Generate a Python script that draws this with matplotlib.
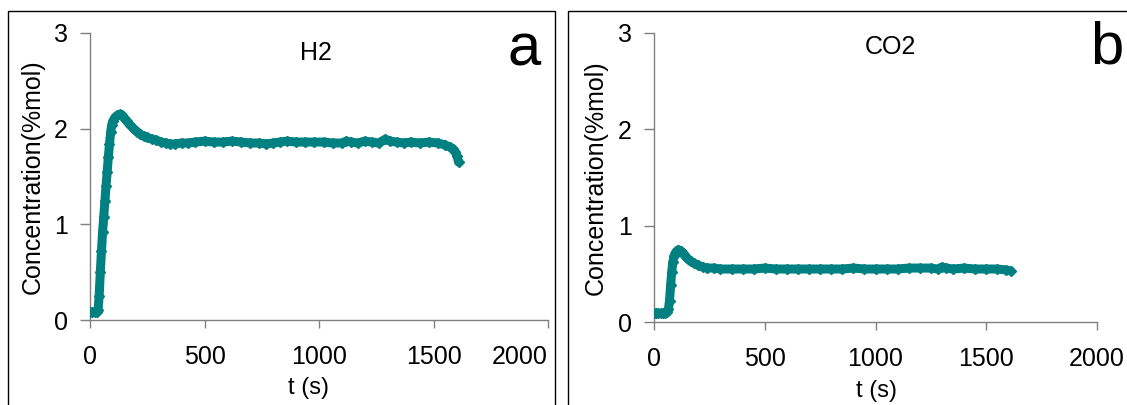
import matplotlib
matplotlib.use("Agg")
import matplotlib.pyplot as plt
from matplotlib.patches import Rectangle

# ── Data ───────────────────────────────────────────────────────────────────────
t_h2 = [0, 10, 20, 30, 35, 40, 45, 50, 55, 60, 65, 70, 75, 80, 85, 90, 95, 100,
        110, 120, 130, 140, 150, 160, 175, 190, 205, 220, 235, 250, 270, 290,
        310, 330, 350, 370, 400, 430, 460, 500, 540, 580, 620, 660, 700, 740,
        770, 800, 830, 860, 900, 940, 980, 1020, 1060, 1100, 1120, 1140, 1170,
        1200, 1230, 1260, 1290, 1310, 1340, 1370, 1400, 1440, 1480, 1520, 1550,
        1570, 1585, 1595, 1603, 1610]
h2 = [0.08, 0.08, 0.08, 0.08, 0.10, 0.25, 0.50, 0.72, 0.92, 1.08, 1.24, 1.40,
      1.55, 1.70, 1.84, 1.96, 2.04, 2.08, 2.12, 2.14, 2.15, 2.14, 2.11, 2.08,
      2.04, 2.00, 1.97, 1.94, 1.92, 1.91, 1.89, 1.88, 1.86, 1.85, 1.84, 1.84,
      1.85, 1.85, 1.86, 1.87, 1.86, 1.86, 1.87, 1.86, 1.85, 1.85, 1.84, 1.85,
      1.86, 1.87, 1.86, 1.86, 1.86, 1.86, 1.85, 1.85, 1.87, 1.86, 1.85, 1.87,
      1.86, 1.85, 1.89, 1.87, 1.86, 1.85, 1.86, 1.85, 1.86, 1.85, 1.83, 1.81,
      1.79, 1.76, 1.71, 1.65]

t_co2 = [0, 10, 20, 30, 40, 50, 60, 65, 70, 75, 80, 85, 90, 95, 100, 110, 120,
         130, 140, 150, 165, 180, 200, 220, 240, 270, 300, 350, 400, 450, 500,
         550, 600, 650, 700, 750, 800, 850, 900, 950, 1000, 1050, 1100, 1150,
         1200, 1250, 1280, 1300, 1320, 1350, 1400, 1450, 1500, 1550, 1590, 1610]
co2 = [0.09, 0.09, 0.09, 0.09, 0.09, 0.09, 0.10, 0.13, 0.22, 0.38, 0.52, 0.62,
       0.68, 0.71, 0.73, 0.75, 0.74, 0.72, 0.69, 0.66, 0.63, 0.61, 0.59, 0.57,
       0.56, 0.56, 0.55, 0.55, 0.55, 0.55, 0.56, 0.55, 0.55, 0.55, 0.55, 0.55,
       0.55, 0.55, 0.56, 0.55, 0.55, 0.55, 0.55, 0.56, 0.56, 0.56, 0.55, 0.57,
       0.56, 0.55, 0.56, 0.55, 0.55, 0.55, 0.54, 0.53]

panels = [
    (t_h2, h2, "H2", "a"),
    (t_co2, co2, "CO2", "b"),
]

# ── Styling ────────────────────────────────────────────────────────────────────
TEAL = "#008080"
AXIS_GREY = "#808080"
W, H = 1127, 405

plt.rcParams["font.family"] = ["Liberation Sans", "DejaVu Sans"]

fig = plt.figure(figsize=(W / 100, H / 100), dpi=100)

# axes boxes in pixels: (left, right, y of value 0, y of value 3)
boxes = [(90, 548, 320, 33), (654, 1097, 322, 33)]
# outer panel frames in pixels: (left, right)
frames = [(8, 555), (568, 1140)]
# gas name / panel letter centres in pixels
label_pos = [((316, 53), (524, 50)), ((890, 47), (1107, 48))]
# axis label anchors in axes fractions: (ylabel x, xlabel x)
axlabel_pos = [(-0.098, 0.476), (-0.104, 0.503)]

for i, ((t, c, gas, letter), (l, r, y0, y3), (fl, fr), ((gx, gy), (lx, ly)),
        (ylx, xlx)) in enumerate(zip(panels, boxes, frames, label_pos, axlabel_pos)):
    fig.patches.append(Rectangle((fl / W, -0.05), (fr - fl) / W, 1 - 11 / H + 0.05,
                                 transform=fig.transFigure, fill=False,
                                 edgecolor="black", linewidth=1.0, zorder=0))

    ax = fig.add_axes([l / W, 1 - y0 / H, (r - l) / W, (y0 - y3) / H])
    ax.plot(t, c, "-", color=TEAL, linewidth=6.5, solid_capstyle="round",
            solid_joinstyle="round", zorder=3)
    ax.plot(t, c, "D", color=TEAL, markersize=5, zorder=4)

    ax.set_xlim(0, 2000)
    ax.set_ylim(0, 3)
    ax.set_xticks([0, 500, 1000, 1500, 2000])
    ax.set_yticks([0, 1, 2, 3])
    for side in ("top", "right"):
        ax.spines[side].set_visible(False)
    for side in ("left", "bottom"):
        ax.spines[side].set_color(AXIS_GREY)
        ax.spines[side].set_linewidth(1.0)
    ax.tick_params(axis="x", direction="out", length=6, width=1.0,
                   color=AXIS_GREY, labelsize=18, pad=12)
    ax.tick_params(axis="y", direction="out", length=7, width=1.0,
                   color=AXIS_GREY, labelsize=18, pad=9)
    ax.patch.set_alpha(0)

    # the left panel keeps its last x label inside the frame
    if i == 0:
        ax.get_xticklabels()[-1].set_horizontalalignment("right")
        ax.get_xticklabels()[-1].set_x(2000)

    ax.set_ylabel("Concentration(%mol)", fontsize=18)
    ax.yaxis.set_label_coords(ylx, 0.5)
    ax.set_xlabel("t (s)", fontsize=17)
    ax.xaxis.set_label_coords(xlx, -0.2)

    fig.text(gx / W, 1 - gy / H, gas, ha="center", va="center", fontsize=18)
    fig.text(lx / W, 1 - ly / H, letter, ha="center", va="center", fontsize=43)

fig.savefig("out.png", dpi=100)
